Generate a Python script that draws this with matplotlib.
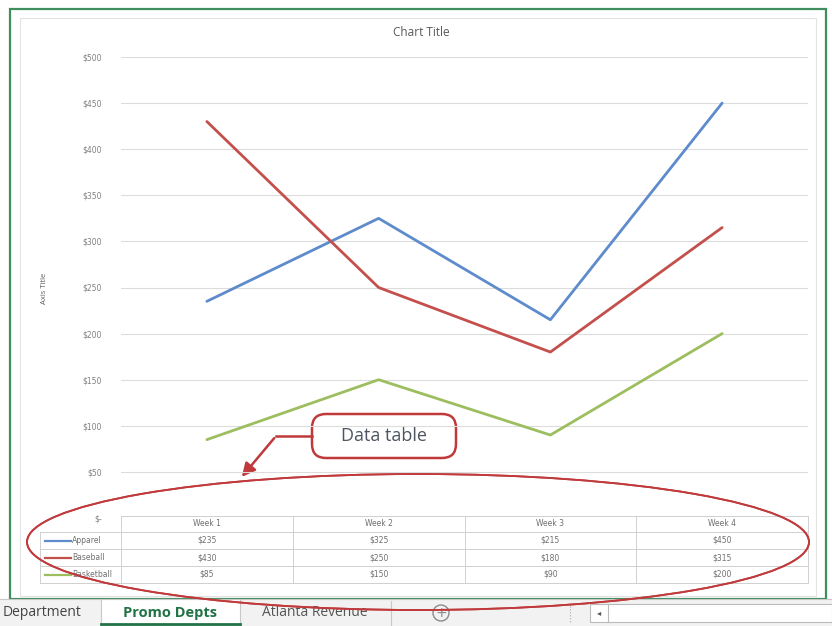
import matplotlib.pyplot as plt
from matplotlib.patches import Rectangle, FancyBboxPatch, Ellipse, Circle

# weekly promo revenue by department
weeks = ['Week 1', 'Week 2', 'Week 3', 'Week 4']
series_names = ['Apparel', 'Baseball', 'Basketball']
apparel = [235, 325, 215, 450]
baseball = [430, 250, 180, 315]
basketball = [85, 150, 90, 200]
y_ticks = [0, 50, 100, 150, 200, 250, 300, 350, 400, 450, 500]
sheet_tabs = ['Department', 'Promo Depts', 'Atlanta Revenue']

colors = ['#5E8BCB', '#C4504C', '#9CBE5E']
values = [apparel, baseball, basketball]

W, H = 832, 626
fig = plt.figure(figsize=(W / 100, H / 100), dpi=100)
fig.patch.set_facecolor('white')

# overlay axes in pixel coordinates for the worksheet furniture
ov = fig.add_axes([0, 0, 1, 1])
ov.set_xlim(0, W)
ov.set_ylim(H, 0)
ov.axis('off')

# worksheet frame and chart area
ov.add_patch(Rectangle((10, 9), 816, 590, fill=False, ec='#3E8E5E', lw=1.6, zorder=1))
ov.add_patch(Rectangle((20, 18), 796, 578, fill=False, ec='#E3E3E3', lw=0.8, zorder=1))

# plot area
L, R, T, B = 121, 808, 57, 518
ax = fig.add_axes([L / W, (H - B) / H, (R - L) / W, (B - T) / H])
ax.set_facecolor('none')
ax.set_xlim(0.5, len(weeks) + 0.5)
ax.set_ylim(0, 500)
ax.set_yticks(y_ticks)
ax.set_yticklabels(['$-' if v == 0 else f'${v}' for v in y_ticks],
                   fontsize=5.5, color='#7F7F7F', family='Liberation Sans Narrow')
ax.tick_params(axis='y', length=0, pad=14)
ax.set_xticks([])
ax.grid(axis='y', color='#DCDCDC', lw=0.8)
for s in ax.spines.values():
    s.set_visible(False)
x = range(1, len(weeks) + 1)
for vals, c in zip(values, colors):
    ax.plot(x, vals, color=c, lw=2.0, solid_capstyle='round')

ov.text(421, 33, 'Chart Title', ha='center', va='center', fontsize=8.5,
        color='#595959', family='Open Sans')
ov.text(45, 288, 'Axis Title', ha='center', va='center', rotation=90,
        fontsize=5.5, color='#595959', family='Open Sans')

# data table under the plot
col_edges = [L + (R - L) * i / len(weeks) for i in range(len(weeks) + 1)]
row_edges = [516, 532, 549, 566, 583]
grid_c = '#D0D0D0'
ov.plot([col_edges[0], R], [row_edges[0]] * 2, color=grid_c, lw=0.7)
for ye in row_edges[1:]:
    ov.plot([40, R], [ye, ye], color=grid_c, lw=0.7)
ov.plot([40, 40], [row_edges[1], row_edges[-1]], color=grid_c, lw=0.7)
for xe in col_edges:
    ov.plot([xe, xe], [row_edges[0], row_edges[-1]], color=grid_c, lw=0.7)

tcfg = dict(fontsize=5.5, color='#6F6F6F', family='Liberation Sans Narrow', va='center')
for i, wk in enumerate(weeks):
    cx = (col_edges[i] + col_edges[i + 1]) / 2
    ov.text(cx, (row_edges[0] + row_edges[1]) / 2, wk, ha='center', **tcfg)
    for r, vals in enumerate(values):
        ov.text(cx, (row_edges[r + 1] + row_edges[r + 2]) / 2, f'${vals[i]}', ha='center', **tcfg)
for r, (name, c) in enumerate(zip(series_names, colors)):
    cy = (row_edges[r + 1] + row_edges[r + 2]) / 2
    ov.plot([45, 71], [cy, cy], color=c, lw=1.6)
    ov.text(72, cy, name, ha='left', **tcfg)

# callout pointing at the data table
red = '#C0393B'
ov.add_patch(Ellipse((418, 542), 782, 136, fill=False, ec=red, lw=1.3, zorder=5))
ov.add_patch(FancyBboxPatch((312, 414), 144, 44, boxstyle='round,pad=0,rounding_size=14',
                            fc='white', ec=red, lw=1.8, zorder=6))
ov.text(384, 436, 'Data table', ha='center', va='center', fontsize=13,
        color='#4E5562', family='Open Sans', zorder=7)
ov.plot([312, 276], [436, 436], color=red, lw=1.8, zorder=6)
ov.annotate('', xy=(240, 479), xytext=(276, 436),
            arrowprops=dict(arrowstyle='-|>,head_length=0.8,head_width=0.4',
                            color=red, lw=1.8), zorder=6)

# sheet tabs strip
ov.add_patch(Rectangle((0, 599), W, 27, fc='#F2F2F2', ec='none', zorder=2))
ov.plot([0, W], [599, 599], color='#C8C8C8', lw=0.8, zorder=3)
ov.add_patch(Rectangle((101, 599), 139, 27, fc='white', ec='#C8C8C8', lw=0.8, zorder=3))
ov.plot([101, 240], [624, 624], color='#217346', lw=2, zorder=4)
ov.text(3, 613, sheet_tabs[0], ha='left', va='center', fontsize=10,
        color='#444444', family='Open Sans', zorder=4, clip_on=True)
ov.text(170, 613, sheet_tabs[1], ha='center', va='center', fontsize=10.5,
        color='#217346', family='Open Sans', weight='bold', zorder=4)
ov.text(315, 613, sheet_tabs[2], ha='center', va='center', fontsize=10,
        color='#555555', family='Open Sans', zorder=4)
ov.plot([391, 391], [601, 626], color='#C8C8C8', lw=0.8, zorder=4)
ov.add_patch(Circle((441, 613), 8, fill=False, ec='#8A8A8A', lw=1, zorder=4))
ov.text(441, 613, '+', ha='center', va='center', fontsize=10, color='#8A8A8A', zorder=5)
ov.plot([570, 570], [603, 623], color='#AAAAAA', lw=0.8, ls=':', zorder=4)
ov.add_patch(Rectangle((590, 604), 242, 18, fc='white', ec='#BBBBBB', lw=0.8, zorder=4))
ov.plot([608, 608], [604, 622], color='#BBBBBB', lw=0.8, zorder=5)
ov.text(599, 613, '◂', ha='center', va='center', fontsize=6, color='#555555', zorder=5)

# redraw the lower part of the ellipse over the tab strip
ov.add_patch(Ellipse((418, 542), 782, 136, fill=False, ec=red, lw=1.3, zorder=8))

fig.savefig('out.png', dpi=100, facecolor='white')
